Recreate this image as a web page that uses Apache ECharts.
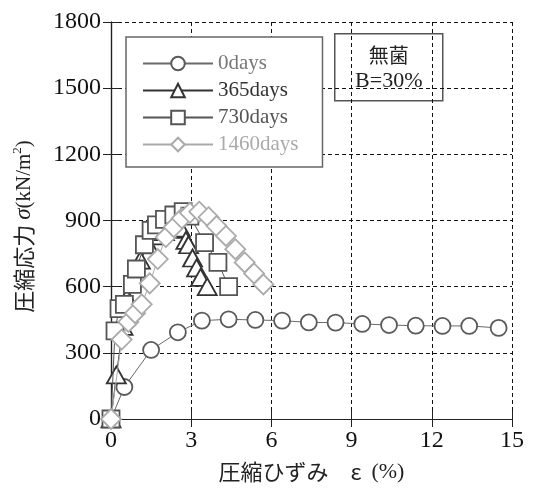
<!DOCTYPE html>
<html>
<head>
<meta charset="utf-8">
<script src="https://cdn.jsdelivr.net/npm/echarts@6/dist/echarts.min.js"></script>
<style>
  html, body { margin: 0; padding: 0; background: #fff; }
  #chart { width: 534px; height: 491px; }
</style>
</head>
<body>
<div id="chart"></div>
<script>
// Compressive stress-strain curves after curing periods
const seriesNames = ['0days', '365days', '730days', '1460days'];

const strain0 = [0, 0.5, 1.5, 2.5, 3.4, 4.4, 5.4, 6.4, 7.4, 8.4, 9.4, 10.4, 11.4, 12.4, 13.4, 14.5];
const stress0 = [0, 145, 313, 393, 446, 452, 449, 446, 438, 437, 431, 426, 423, 422, 422, 413];

const strain365 = [0, 0.2, 0.45, 0.6, 0.85, 1.1, 1.4, 1.7, 2.0, 2.3, 2.6, 2.8, 2.9, 3.05, 3.2, 3.35, 3.6];
const stress365 = [0, 200, 420, 550, 640, 720, 790, 830, 850, 860, 865, 810, 790, 730, 685, 642, 600];

const strain730 = [0, 0.15, 0.3, 0.5, 0.8, 0.95, 1.25, 1.5, 1.7, 2.0, 2.35, 2.7, 2.95, 3.5, 4.0, 4.4];
const stress730 = [0, 400, 500, 520, 610, 680, 790, 855, 880, 905, 925, 940, 920, 800, 710, 600];

const strain1460 = [0, 0.4, 0.65, 0.9, 1.15, 1.45, 1.75, 2.05, 2.35, 2.65, 2.95, 3.3, 3.65, 3.95, 4.3, 4.65, 5.0, 5.35, 5.7];
const stress1460 = [0, 360, 440, 480, 520, 615, 725, 825, 870, 910, 935, 940, 915, 875, 830, 770, 710, 660, 610];

const xTicks = [0, 3, 6, 9, 12, 15];
const yTicks = [0, 300, 600, 900, 1200, 1500, 1800];

function pairs(xs, ys) { return xs.map((x, i) => [x, ys[i]]); }

const serif = 'Liberation Serif';
const sans = 'Noto Sans CJK JP';

const styles = [
  { symbol: 'circle', size: 16, color: '#5a5a5a', line: '#6a6a6a', text: '#777777', lw: 1 },
  { symbol: 'triangle', size: [19, 17], color: '#333333', line: '#333333', text: '#333333', lw: 1 },
  { symbol: 'rect', size: 17, color: '#555555', line: '#555555', text: '#555555', lw: 1 },
  { symbol: 'diamond', size: 20, color: '#aaaaaa', line: '#aaaaaa', text: '#aaaaaa', lw: 1 }
];
const dataSets = [
  pairs(strain0, stress0),
  pairs(strain365, stress365),
  pairs(strain730, stress730),
  pairs(strain1460, stress1460)
];

const chart = echarts.init(document.getElementById('chart'), null, { renderer: 'canvas' });

const splitDash = { show: true, lineStyle: { color: '#111', width: 1, type: [4, 3] } };

chart.setOption({
  animation: false,
  backgroundColor: '#fff',
  grid: { left: 111, right: 22, top: 22, bottom: 72, show: false },
  legend: {
    orient: 'vertical',
    left: 126,
    top: 37,
    padding: [16, 24, 12, 16],
    itemGap: 6,
    itemWidth: 70,
    itemHeight: 17,
    backgroundColor: '#fff',
    borderColor: '#666',
    borderWidth: 1.5,
    borderRadius: 0,
    textStyle: { fontFamily: serif, fontSize: 21, lineHeight: 17 },
    data: seriesNames.map((n, i) => ({ name: n, textStyle: { color: styles[i].text } }))
  },
  xAxis: [
    {
      type: 'value', min: 0, max: 15, interval: 3,
      name: '{jp|圧縮ひずみ　ε  }{sf|(%)}',
      nameLocation: 'middle', nameGap: 42,
      nameTextStyle: {
        rich: {
          jp: { fontFamily: sans, fontSize: 22, color: '#222' },
          sf: { fontFamily: serif, fontSize: 22, color: '#222' }
        }
      },
      axisLine: { show: true, onZero: false, lineStyle: { color: '#222', width: 1.2 } },
      axisTick: { show: true, inside: true, length: 8, lineStyle: { color: '#222' } },
      axisLabel: { fontFamily: serif, fontSize: 24, color: '#111', margin: 10,
        formatter: v => xTicks.includes(v) ? String(v) : '' },
      splitLine: splitDash
    },
    {
      type: 'value', min: 0, max: 15, interval: 3, position: 'top',
      axisLine: { show: true, lineStyle: { color: '#222', width: 1.2 } },
      axisTick: { show: true, inside: true, length: 8, lineStyle: { color: '#222' } },
      axisLabel: { show: false }, splitLine: { show: false }
    }
  ],
  yAxis: [
    {
      type: 'value', min: 0, max: 1800, interval: 300,
      name: '{jp|圧縮応力 }{sg|σ}{sf|(kN/m}{sup|2}{sf|)}',
      nameLocation: 'middle', nameGap: 74, nameRotate: 90,
      nameTextStyle: {
        padding: [0, 0, 0, -12],
        rich: {
          jp: { fontFamily: sans, fontSize: 22, color: '#222', lineHeight: 26 },
          sg: { fontFamily: serif, fontStyle: 'italic', fontSize: 23, color: '#222', lineHeight: 26 },
          sf: { fontFamily: serif, fontSize: 21, color: '#222', lineHeight: 26 },
          sup: { fontFamily: serif, fontSize: 13, color: '#222', lineHeight: 12, verticalAlign: 'top' }
        }
      },
      axisLine: { show: true, onZero: false, lineStyle: { color: '#222', width: 1.2 } },
      axisTick: { show: true, inside: true, length: 8, lineStyle: { color: '#222' } },
      axisLabel: { fontFamily: serif, fontSize: 24, color: '#111', margin: 10,
        formatter: v => yTicks.includes(v) ? String(v) : '' },
      splitLine: splitDash
    },
    {
      type: 'value', min: 0, max: 1800, interval: 300, position: 'right',
      axisLine: { show: true, lineStyle: { color: '#222', width: 1.2 } },
      axisTick: { show: true, inside: true, length: 8, lineStyle: { color: '#222' } },
      axisLabel: { show: false }, splitLine: { show: false }
    }
  ],
  series: seriesNames.map((n, i) => ({
    name: n,
    type: 'line',
    data: dataSets[i],
    symbol: styles[i].symbol,
    symbolSize: styles[i].size,
    showAllSymbol: true,
    lineStyle: { color: styles[i].line, width: styles[i].lw },
    itemStyle: { color: '#fff', borderColor: styles[i].color, borderWidth: 1.8 },
    emphasis: { disabled: true },
    clip: false,
    z: 2 + i
  })),
  graphic: [
    {
      type: 'group', left: 334, top: 33, z: 20,
      children: [
        { type: 'rect', shape: { x: 0, y: 0, width: 108, height: 67 },
          style: { fill: '#fff', stroke: '#555', lineWidth: 1.5 } },
        { type: 'text', x: 54, y: 22,
          style: { text: '無菌', font: '20px "Noto Sans CJK JP"', fill: '#222', align: 'center', verticalAlign: 'middle' } },
        { type: 'text', x: 54, y: 47,
          style: { text: 'B=30%', font: '22px "Liberation Serif"', fill: '#222', align: 'center', verticalAlign: 'middle' } }
      ]
    }
  ]
});
</script>
</body>
</html>
